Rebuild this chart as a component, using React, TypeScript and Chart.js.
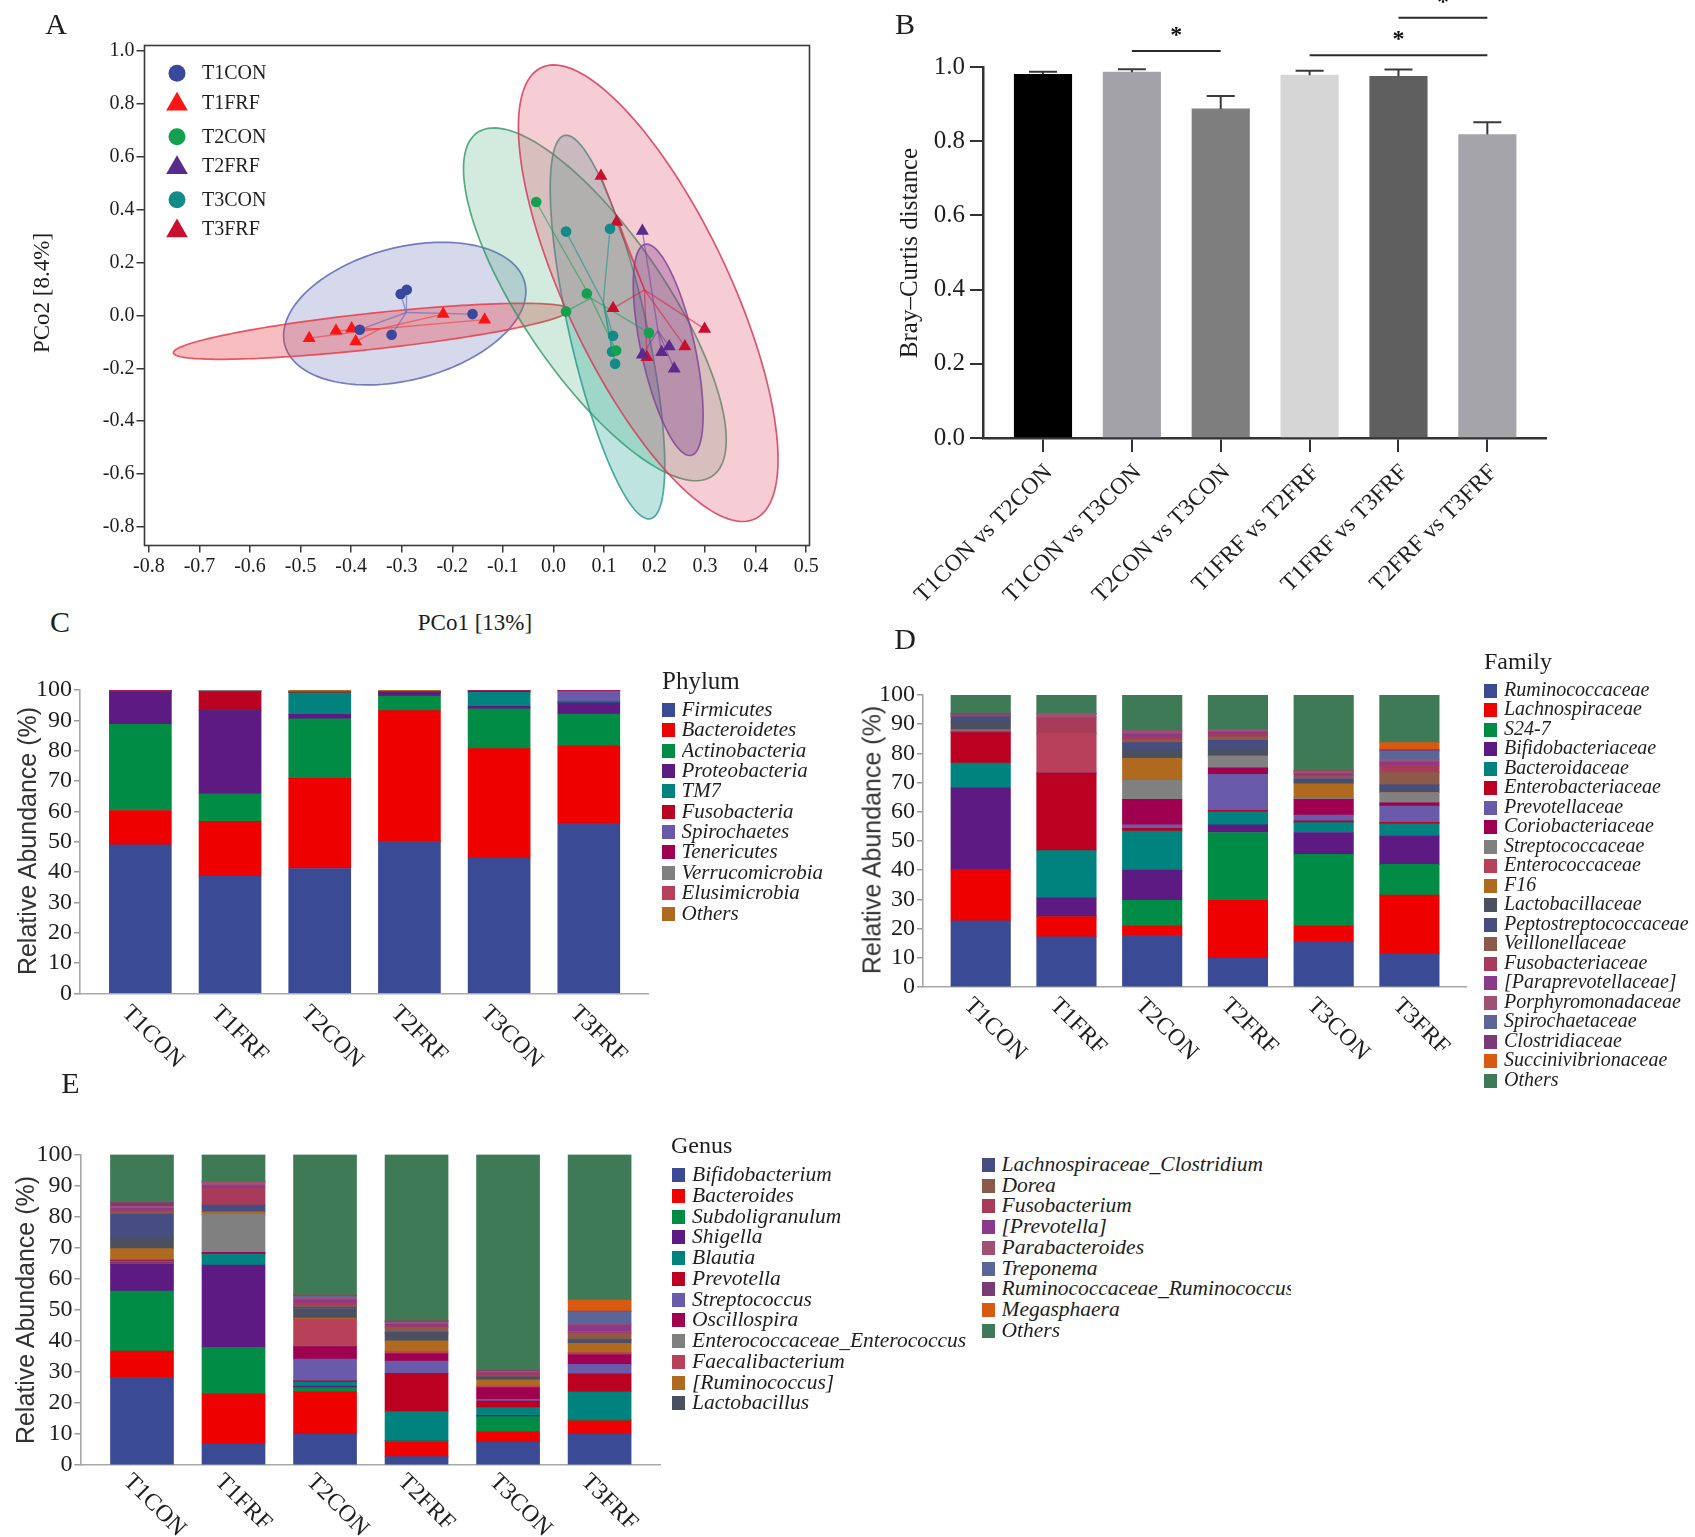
import React, { useEffect, useRef } from 'react';
import { Chart, registerables } from 'chart.js';

Chart.register(...registerables);

const SERIF = "'Liberation Serif', 'Times New Roman', serif";
const SANS = "'Liberation Sans', Arial, sans-serif";
const INK = '#1e1e1e';

// ================= Panel A : PCoA =================
const pcoGroups = ['T1CON', 'T1FRF', 'T2CON', 'T2FRF', 'T3CON', 'T3FRF'];
const t1conX = [-0.29, -0.302, -0.383, -0.32, -0.16];
const t1conY = [0.097, 0.081, -0.054, -0.073, 0.005];
const t1frfX = [-0.483, -0.43, -0.399, -0.391, -0.218, -0.136];
const t1frfY = [-0.086, -0.058, -0.049, -0.099, 0.005, -0.016];
const t2conX = [-0.034, 0.066, 0.025, 0.189, 0.124];
const t2conY = [0.429, 0.083, 0.015, -0.066, -0.133];
const t2frfX = [0.176, 0.229, 0.214, 0.176, 0.239];
const t2frfY = [0.319, -0.117, -0.139, -0.149, -0.202];
const t3conX = [0.025, 0.112, 0.118, 0.116, 0.122];
const t3conY = [0.317, 0.328, -0.077, -0.137, -0.183];
const t3frfX = [0.094, 0.125, 0.118, 0.185, 0.26, 0.299];
const t3frfY = [0.527, 0.353, 0.027, -0.158, -0.117, -0.051];
// confidence ellipses: centre, semi-axes, rotation (deg)
const ellCx = [-0.294, -0.36, 0.082, 0.227, 0.107, 0.1875];
const ellCy = [0.007, -0.06, 0.042, -0.13, -0.044, 0.084];
const ellA = [0.294, 0.4, 0.698, 0.402, 0.73, 0.884];
const ellB = [0.209, 0.067, 0.159, 0.054, 0.078, 0.172];
const ellDeg = [55.5, 12, 107.6, 96.2, 96.5, 102.7];
const pcoXTicks = [-0.8, -0.7, -0.6, -0.5, -0.4, -0.3, -0.2, -0.1, 0.0, 0.1, 0.2, 0.3, 0.4, 0.5];
const pcoYTicks = [-0.8, -0.6, -0.4, -0.2, 0.0, 0.2, 0.4, 0.6, 0.8, 1.0];

// ================= Panel B : Bray-Curtis =================
const distLabels = ['T1CON vs T2CON', 'T1CON vs T3CON', 'T2CON vs T3CON', 'T1FRF vs T2FRF', 'T1FRF vs T3FRF', 'T2FRF vs T3FRF'];
const distMean = [0.98, 0.986, 0.887, 0.978, 0.975, 0.818];
const distErr = [0.007, 0.008, 0.035, 0.012, 0.018, 0.033];
const distTicks = [0.0, 0.2, 0.4, 0.6, 0.8, 1.0];
const sigFrom = [1, 3, 4];
const sigTo = [2, 5, 5];
const sigLevel = [1.043, 1.032, 1.133];
const sigMark = ['*', '*', '*'];

// ================= Panels C/D/E : relative abundance =================
const sampleGroups = ['T1CON', 'T1FRF', 'T2CON', 'T2FRF', 'T3CON', 'T3FRF'];
const abundTicks = [0, 10, 20, 30, 40, 50, 60, 70, 80, 90, 100];

const phylumNames = ['Firmicutes', 'Bacteroidetes', 'Actinobacteria', 'Proteobacteria', 'TM7', 'Fusobacteria', 'Spirochaetes', 'Tenericutes', 'Verrucomicrobia', 'Elusimicrobia', 'Others'];
const phylumValues = [
  [49.0, 38.6, 41.2, 50.1, 44.6, 56.1],
  [11.3, 18.1, 29.7, 43.1, 36.1, 25.5],
  [28.4, 9.1, 19.6, 4.8, 13.1, 10.5],
  [10.6, 27.4, 1.5, 1.2, 0.8, 3.7],
  [0.1, 0.0, 7.1, 0.0, 4.6, 0.3],
  [0.3, 6.3, 0.1, 0.2, 0.4, 0.1],
  [0.0, 0.1, 0.1, 0.0, 0.0, 3.3],
  [0.1, 0.0, 0.1, 0.1, 0.2, 0.3],
  [0.0, 0.3, 0.0, 0.0, 0.0, 0.0],
  [0.0, 0.0, 0.1, 0.0, 0.0, 0.0],
  [0.2, 0.1, 0.5, 0.5, 0.2, 0.2],
];

const familyNames = ['Ruminococcaceae', 'Lachnospiraceae', 'S24-7', 'Bifidobacteriaceae', 'Bacteroidaceae', 'Enterobacteriaceae', 'Prevotellaceae', 'Coriobacteriaceae', 'Streptococcaceae', 'Enterococcaceae', 'F16', 'Lactobacillaceae', 'Peptostreptococcaceae', 'Veillonellaceae', 'Fusobacteriaceae', '[Paraprevotellaceae]', 'Porphyromonadaceae', 'Spirochaetaceae', 'Clostridiaceae', 'Succinivibrionaceae', 'Others'];
const familyValues = [
  [22.7, 17.2, 17.7, 9.8, 15.5, 11.4],
  [17.4, 6.9, 3.2, 19.9, 5.4, 20.1],
  [0.0, 0.0, 8.8, 23.2, 24.5, 10.5],
  [28.1, 6.4, 10.3, 2.6, 7.5, 9.7],
  [8.5, 16.2, 13.4, 4.5, 3.4, 4.2],
  [10.4, 26.6, 0.9, 0.5, 0.6, 0.5],
  [0.0, 0.0, 1.2, 12.3, 2.0, 5.6],
  [0.3, 0.0, 8.8, 2.3, 5.4, 1.1],
  [0.3, 0.0, 6.6, 4.0, 0.5, 3.5],
  [0.5, 13.5, 0.0, 0.0, 0.0, 0.0],
  [0.0, 0.0, 7.4, 0.0, 4.8, 0.0],
  [2.6, 0.0, 3.1, 2.3, 1.0, 1.1],
  [1.7, 0.0, 2.3, 3.1, 0.8, 1.5],
  [0.2, 0.0, 1.0, 1.2, 0.6, 4.2],
  [0.3, 5.5, 1.0, 0.8, 0.6, 2.6],
  [0.2, 0.0, 1.0, 0.8, 0.5, 1.0],
  [0.3, 1.4, 1.0, 0.9, 0.5, 1.0],
  [0.0, 0.0, 0.0, 0.0, 0.2, 2.8],
  [0.2, 0.0, 0.0, 0.0, 0.2, 0.5],
  [0.0, 0.0, 0.0, 0.0, 0.0, 2.4],
  [6.3, 6.3, 12.3, 11.8, 26.0, 16.3],
];

const genusNames = ['Bifidobacterium', 'Bacteroides', 'Subdoligranulum', 'Shigella', 'Blautia', 'Prevotella', 'Streptococcus', 'Oscillospira', 'Enterococcaceae_Enterococcus', 'Faecalibacterium', '[Ruminococcus]', 'Lactobacillus', 'Lachnospiraceae_Clostridium', 'Dorea', 'Fusobacterium', '[Prevotella]', 'Parabacteroides', 'Treponema', 'Ruminococcaceae_Ruminococcus', 'Megasphaera', 'Others'];
const genusValues = [
  [28.2, 6.8, 9.9, 2.7, 7.3, 9.9],
  [8.5, 16.1, 13.7, 4.8, 3.4, 4.3],
  [19.3, 15.0, 1.3, 0.3, 4.9, 0.3],
  [8.6, 26.5, 0.5, 0.0, 0.4, 0.0],
  [0.4, 3.5, 1.3, 9.4, 2.5, 9.1],
  [0.2, 0.3, 0.4, 12.3, 2.1, 5.8],
  [0.5, 0.0, 7.0, 4.0, 0.5, 3.0],
  [0.2, 0.3, 4.0, 2.4, 3.8, 3.2],
  [0.0, 12.2, 0.0, 0.0, 0.0, 0.0],
  [0.3, 0.0, 8.9, 0.6, 0.5, 0.6],
  [3.5, 0.8, 0.3, 3.5, 2.0, 3.0],
  [3.3, 0.0, 3.1, 2.4, 0.5, 0.8],
  [8.0, 2.2, 0.5, 0.4, 0.5, 0.4],
  [0.5, 0.0, 0.5, 1.5, 0.3, 2.0],
  [0.4, 5.5, 0.8, 0.4, 0.5, 0.6],
  [0.8, 0.8, 1.0, 0.6, 0.5, 2.1],
  [0.6, 1.2, 0.8, 0.5, 0.4, 0.3],
  [0.0, 0.0, 0.5, 0.3, 0.0, 4.0],
  [1.2, 0.0, 0.2, 0.3, 0.3, 0.2],
  [0.0, 0.0, 0.0, 0.0, 0.0, 3.5],
  [15.5, 8.8, 45.3, 53.6, 69.6, 46.9],
];

// ================= styles =================
const pcoColors = ['#3a479e', '#ff1414', '#13a04f', '#5a2a8c', '#118b88', '#c8102e'];
const pcoShapes = ['circle', 'triangle', 'circle', 'triangle', 'circle', 'triangle'];
const ellFill = ['rgba(70,82,170,0.22)', 'rgba(235,55,65,0.33)', 'rgba(50,165,105,0.22)', 'rgba(120,50,140,0.32)', 'rgba(40,165,150,0.3)', 'rgba(225,75,105,0.28)'];
const ellStroke = ['rgba(95,105,180,0.85)', 'rgba(232,60,70,0.85)', 'rgba(50,150,100,0.8)', 'rgba(130,70,150,0.85)', 'rgba(40,150,140,0.8)', 'rgba(215,60,90,0.85)'];
const spokeColor = ['rgba(100,110,190,0.65)', 'rgba(240,60,60,0.6)', 'rgba(40,160,90,0.6)', 'rgba(120,70,160,0.6)', 'rgba(30,150,140,0.6)', 'rgba(210,40,70,0.6)'];
const ellOrder = [0, 1, 2, 4, 5, 3];
const distColors = ['#000000', '#a3a2a8', '#7e7e7e', '#d6d6d6', '#5f5f5f', '#a5a4aa'];
const taxaPalette = ['#3b4a94', '#ee0000', '#008c45', '#5c1a82', '#00837f', '#bb0022', '#6a5aaa', '#a00050', '#808080', '#b84058', '#b06a20', '#4a5060', '#464d80', '#8b5a4a', '#a83a5a', '#8a3a8a', '#a05070', '#5a6598', '#7a3a78', '#d85a10', '#3d7a55'];

const mean = (a: number[]) => a.reduce((s, v) => s + v, 0) / a.length;
const pcoX = [t1conX, t1frfX, t2conX, t2frfX, t3conX, t3frfX];
const pcoY = [t1conY, t1frfY, t2conY, t2frfY, t3conY, t3frfY];

function ellipsePath(ctx: any, xs: any, ys: any, g: number) {
  const t = (ellDeg[g] * Math.PI) / 180;
  ctx.beginPath();
  for (let k = 0; k <= 160; k++) {
    const u = (k / 160) * Math.PI * 2;
    const dx = ellA[g] * Math.cos(u);
    const dy = ellB[g] * Math.sin(u);
    const X = ellCx[g] + dx * Math.cos(t) - dy * Math.sin(t);
    const Y = ellCy[g] + dx * Math.sin(t) + dy * Math.cos(t);
    const px = xs.getPixelForValue(X);
    const py = ys.getPixelForValue(Y);
    if (k === 0) ctx.moveTo(px, py);
    else ctx.lineTo(px, py);
  }
  ctx.closePath();
}

function drawMarker(ctx: any, shape: string, x: number, y: number, r: number, color: string) {
  ctx.fillStyle = color;
  ctx.beginPath();
  if (shape === 'circle') {
    ctx.arc(x, y, r, 0, Math.PI * 2);
  } else {
    for (let i = 0; i < 3; i++) {
      const a = (i * 2 * Math.PI) / 3;
      const px = x + Math.sin(a) * r;
      const py = y - Math.cos(a) * r + r * 0.15;
      if (i === 0) ctx.moveTo(px, py);
      else ctx.lineTo(px, py);
    }
    ctx.closePath();
  }
  ctx.fill();
}

const legendRowY = [73.2, 102.3, 136.7, 165.8, 199.8, 229];

const pcoPlugin = {
  id: 'pco',
  beforeDatasetsDraw(chart: any) {
    const { ctx, chartArea: ca, scales } = chart;
    const xs = scales.x;
    const ys = scales.y;
    ctx.save();
    ctx.beginPath();
    ctx.rect(ca.left, ca.top, ca.right - ca.left, ca.bottom - ca.top);
    ctx.clip();
    ellOrder.forEach((g) => {
      ellipsePath(ctx, xs, ys, g);
      ctx.fillStyle = ellFill[g];
      ctx.fill();
      ctx.lineWidth = 1.7;
      ctx.strokeStyle = ellStroke[g];
      ctx.stroke();
    });
    pcoGroups.forEach((_, g) => {
      const mx = xs.getPixelForValue(mean(pcoX[g]));
      const my = ys.getPixelForValue(mean(pcoY[g]));
      ctx.strokeStyle = spokeColor[g];
      ctx.lineWidth = 1.4;
      pcoX[g].forEach((v, i) => {
        ctx.beginPath();
        ctx.moveTo(mx, my);
        ctx.lineTo(xs.getPixelForValue(v), ys.getPixelForValue(pcoY[g][i]));
        ctx.stroke();
      });
    });
    ctx.restore();
  },
  afterDraw(chart: any) {
    const { ctx, chartArea: ca } = chart;
    ctx.save();
    ctx.strokeStyle = '#3a3a3a';
    ctx.lineWidth = 1.6;
    ctx.strokeRect(ca.left, ca.top, ca.right - ca.left, ca.bottom - ca.top);
    ctx.font = `20px ${SERIF}`;
    ctx.textBaseline = 'middle';
    ctx.textAlign = 'left';
    pcoGroups.forEach((g, i) => {
      const y = legendRowY[i];
      drawMarker(ctx, pcoShapes[i], 177, y, pcoShapes[i] === 'circle' ? 8.5 : 12.5, pcoColors[i]);
      ctx.fillStyle = INK;
      ctx.fillText(g, 202, y + 1);
    });
    ctx.restore();
  },
};

const distPlugin = {
  id: 'dist',
  afterDatasetsDraw(chart: any) {
    const { ctx, scales } = chart;
    const xs = scales.x;
    const ys = scales.y;
    ctx.save();
    ctx.strokeStyle = '#3a3a3a';
    ctx.lineWidth = 2;
    distMean.forEach((m, i) => {
      const px = xs.getPixelForValue(i);
      const y0 = ys.getPixelForValue(m);
      const y1 = ys.getPixelForValue(m + distErr[i]);
      ctx.beginPath();
      ctx.moveTo(px, y0);
      ctx.lineTo(px, y1);
      ctx.moveTo(px - 14, y1);
      ctx.lineTo(px + 14, y1);
      ctx.stroke();
    });
    ctx.strokeStyle = '#2a2a2a';
    ctx.lineWidth = 2;
    ctx.fillStyle = '#111';
    ctx.font = `bold 24px ${SERIF}`;
    ctx.textAlign = 'center';
    ctx.textBaseline = 'alphabetic';
    sigFrom.forEach((a, k) => {
      const x1 = xs.getPixelForValue(a);
      const x2 = xs.getPixelForValue(sigTo[k]);
      const y = ys.getPixelForValue(sigLevel[k]);
      ctx.beginPath();
      ctx.moveTo(x1, y);
      ctx.lineTo(x2, y);
      ctx.stroke();
      ctx.fillText(sigMark[k], (x1 + x2) / 2, y - 9);
    });
    ctx.restore();
  },
};

function catLabels(labels: string[], rot: number, dx: number, dy: number, size: number) {
  return {
    id: 'catLabels',
    afterDraw(chart: any) {
      const { ctx, chartArea: ca, scales } = chart;
      ctx.save();
      ctx.font = `${size}px ${SERIF}`;
      ctx.fillStyle = INK;
      ctx.textBaseline = 'middle';
      ctx.textAlign = rot > 0 ? 'left' : 'right';
      labels.forEach((lab, i) => {
        const px = scales.x.getPixelForValue(i);
        ctx.save();
        ctx.translate(px + dx, ca.bottom + dy);
        ctx.rotate((rot * Math.PI) / 180);
        ctx.fillText(lab, 0, 0);
        ctx.restore();
      });
      ctx.restore();
    },
  };
}

function stackedConfig(names: string[], values: number[][], area: any) {
  return {
    type: 'bar',
    data: {
      datasets: names.map((n, k) => ({
        label: n,
        data: sampleGroups.map((_, i) => ({ x: i, y: values[k][i] })),
        backgroundColor: taxaPalette[k],
        borderWidth: 0,
        barThickness: area.bar,
      })),
    },
    options: {
      responsive: false,
      animation: false,
      events: [],
      layout: { padding: { top: area.T, right: area.R, left: 0, bottom: 0 } },
      plugins: { legend: { display: false }, tooltip: { enabled: false } },
      scales: {
        x: {
          type: 'linear',
          stacked: true,
          offset: false,
          min: -0.673,
          max: 5.66,
          afterBuildTicks: (s: any) => {
            s.ticks = sampleGroups.map((_, i) => ({ value: i }));
          },
          afterFit: (s: any) => {
            s.height = area.B;
          },
          grid: { display: false, offset: false },
          border: { display: true, color: '#a8a8a8', width: 1.6 },
          ticks: { callback: () => '' },
        },
        y: {
          stacked: true,
          min: 0,
          max: 100,
          afterBuildTicks: (s: any) => {
            s.ticks = abundTicks.map((v) => ({ value: v }));
          },
          afterFit: (s: any) => {
            s.width = area.L;
          },
          grid: { drawOnChartArea: false, drawTicks: true, tickLength: 6, color: '#9a9a9a', lineWidth: 1.5 },
          border: { display: true, color: '#a8a8a8', width: 1.6 },
          ticks: { font: { family: SERIF, size: 24 }, color: INK, padding: 2, autoSkip: false, callback: (v: any) => String(v) },
        },
      },
    },
    plugins: [catLabels(sampleGroups, 45, area.ldx, area.ldy, 24)],
  };
}

const pcoConfig: any = {
  type: 'scatter',
  data: {
    datasets: pcoGroups.map((g, k) => ({
      label: g,
      data: pcoX[k].map((v, i) => ({ x: v, y: pcoY[k][i] })),
      pointStyle: pcoShapes[k],
      pointRadius: pcoShapes[k] === 'circle' ? 5.3 : 7.5,
      backgroundColor: pcoColors[k],
      borderColor: pcoColors[k],
      borderWidth: 0,
    })),
  },
  options: {
    responsive: false,
    animation: false,
    events: [],
    layout: { padding: { top: 45.5, right: 30.5, left: 0, bottom: 0 } },
    plugins: { legend: { display: false }, tooltip: { enabled: false } },
    scales: {
      x: {
        type: 'linear',
        min: -0.8087,
        max: 0.5065,
        afterBuildTicks: (s: any) => {
          s.ticks = pcoXTicks.map((v) => ({ value: v }));
        },
        afterFit: (s: any) => {
          s.height = 54.5;
        },
        grid: { drawOnChartArea: false, drawTicks: true, tickLength: 7, color: '#3a3a3a', lineWidth: 1.5 },
        border: { display: false },
        ticks: { font: { family: SERIF, size: 20 }, color: INK, padding: 2, maxRotation: 0, autoSkip: false, callback: (v: any) => Number(v).toFixed(1) },
      },
      y: {
        type: 'linear',
        min: -0.87,
        max: 1.0208,
        afterBuildTicks: (s: any) => {
          s.ticks = pcoYTicks.map((v) => ({ value: v }));
        },
        afterFit: (s: any) => {
          s.width = 144.5;
        },
        grid: { drawOnChartArea: false, drawTicks: true, tickLength: 8, color: '#3a3a3a', lineWidth: 1.5 },
        border: { display: false },
        ticks: { font: { family: SERIF, size: 20 }, color: INK, padding: 2, autoSkip: false, callback: (v: any) => Number(v).toFixed(1) },
      },
    },
  },
  plugins: [pcoPlugin],
};

const distConfig: any = {
  type: 'bar',
  data: {
    datasets: [
      {
        label: 'Bray-Curtis distance',
        data: distMean.map((v, i) => ({ x: i, y: v })),
        backgroundColor: distColors,
        borderWidth: 0,
        barThickness: 57.5,
      },
    ],
  },
  options: {
    responsive: false,
    animation: false,
    events: [],
    layout: { padding: { top: 67, right: 54, left: 0, bottom: 0 } },
    plugins: { legend: { display: false }, tooltip: { enabled: false } },
    scales: {
      x: {
        type: 'linear',
        offset: false,
        min: -0.675,
        max: 5.66,
        afterBuildTicks: (s: any) => {
          s.ticks = distLabels.map((_, i) => ({ value: i }));
        },
        afterFit: (s: any) => {
          s.height = 207;
        },
        grid: { drawOnChartArea: false, drawTicks: true, tickLength: 14, color: '#333', lineWidth: 2, offset: false },
        border: { display: true, color: '#333', width: 2.5 },
        ticks: { callback: () => '' },
      },
      y: {
        min: 0,
        max: 1,
        afterBuildTicks: (s: any) => {
          s.ticks = distTicks.map((v) => ({ value: v }));
        },
        afterFit: (s: any) => {
          s.width = 123;
        },
        grid: { drawOnChartArea: false, drawTicks: true, tickLength: 13, color: '#333', lineWidth: 2 },
        border: { display: true, color: '#333', width: 2.5 },
        ticks: { font: { family: SERIF, size: 25 }, color: INK, padding: 5, autoSkip: false, callback: (v: any) => Number(v).toFixed(1) },
      },
    },
  },
  plugins: [distPlugin, catLabels(distLabels, -45, 6, 31, 23.5)],
};

// canvas placements (page px)
const boxes = {
  A: { left: 0, top: 0, w: 840, h: 600 },
  B: { left: 860, top: 0, w: 740, h: 645 },
  C: { left: 0, top: 640, w: 680, h: 440 },
  D: { left: 860, top: 650, w: 640, h: 420 },
  E: { left: 0, top: 1100, w: 700, h: 437 },
};

function Txt(props: { x: number; y: number; size: number; text: string; rotate?: boolean; family?: string; italic?: boolean; color?: string }) {
  const { x, y, size, text, rotate, family, italic, color } = props;
  return (
    <div
      style={{
        position: 'absolute',
        left: x,
        top: y,
        transform: `translate(-50%, -50%)${rotate ? ' rotate(-90deg)' : ''}`,
        whiteSpace: 'nowrap',
        font: `${italic ? 'italic ' : ''}${size}px ${family || SERIF}`,
        color: color || INK,
        lineHeight: 1,
      }}
    >
      {text}
    </div>
  );
}

function Legend(props: { names: string[]; colors: string[]; boxX: number; textX: number; y0: number; step: number; size: number; clipRight?: number }) {
  const { names, colors, boxX, textX, y0, step, size, clipRight } = props;
  return (
    <>
      {names.map((n, i) => {
        const y = y0 + i * step;
        return (
          <React.Fragment key={n}>
            <div style={{ position: 'absolute', left: boxX, top: y - 7, width: 13, height: 14, background: colors[i] }} />
            <div
              style={{
                position: 'absolute',
                left: textX,
                top: y - 13,
                height: 26,
                lineHeight: '26px',
                font: `italic ${size}px ${SERIF}`,
                whiteSpace: 'nowrap',
                color: INK,
                overflow: 'hidden',
                width: clipRight ? clipRight - textX : undefined,
              }}
            >
              {n}
            </div>
          </React.Fragment>
        );
      })}
    </>
  );
}

export default function App() {
  const refA = useRef<HTMLCanvasElement>(null);
  const refB = useRef<HTMLCanvasElement>(null);
  const refC = useRef<HTMLCanvasElement>(null);
  const refD = useRef<HTMLCanvasElement>(null);
  const refE = useRef<HTMLCanvasElement>(null);

  useEffect(() => {
    const charts: Chart[] = [];
    const make = (ref: any, cfg: any) => {
      if (ref.current) charts.push(new Chart(ref.current, cfg));
    };
    make(refA, pcoConfig);
    make(refB, distConfig);
    make(refC, stackedConfig(phylumNames, phylumValues, { L: 80, T: 50, R: 32, B: 86.5, bar: 62, ldx: -15, ldy: 16 }));
    make(refD, stackedConfig(familyNames, familyValues, { L: 63, T: 45, R: 34, B: 83, bar: 59.5, ldx: -13, ldy: 15 }));
    make(refE, stackedConfig(genusNames, genusValues, { L: 80.4, T: 54.5, R: 40, B: 72, bar: 63, ldx: -15, ldy: 13 }));
    return () => charts.forEach((c) => c.destroy());
  }, []);

  const cv = (ref: any, b: any) => (
    <canvas ref={ref} width={b.w} height={b.h} style={{ position: 'absolute', left: b.left, top: b.top, width: b.w, height: b.h }} />
  );

  const col1 = 12;
  return (
    <div style={{ position: 'absolute', left: 0, top: 0, width: 1695, height: 1537, background: '#fff', overflow: 'hidden' }}>
      {cv(refA, boxes.A)}
      {cv(refB, boxes.B)}
      {cv(refC, boxes.C)}
      {cv(refD, boxes.D)}
      {cv(refE, boxes.E)}

      <Txt x={56} y={24} size={30} text="A" />
      <Txt x={905} y={24} size={30} text="B" />
      <Txt x={60} y={622} size={30} text="C" />
      <Txt x={905} y={639} size={30} text="D" />
      <Txt x={70.5} y={1083} size={30} text="E" />

      <Txt x={40.5} y={293} size={23} text="PCo2 [8.4%]" rotate />
      <Txt x={475} y={622} size={23} text="PCo1 [13%]" />
      <Txt x={908} y={253} size={25} text="Bray–Curtis distance" rotate />
      <Txt x={26.5} y={841} size={25} text="Relative Abundance (%)" rotate family={SANS} color="#333" />
      <Txt x={872} y={840} size={25} text="Relative Abundance (%)" rotate family={SANS} color="#333" />
      <Txt x={24.6} y={1310} size={25} text="Relative Abundance (%)" rotate family={SANS} color="#333" />

      <div style={{ position: 'absolute', left: 662, top: 681.5 - 15, lineHeight: '30px', font: `25px ${SERIF}`, color: INK }}>Phylum</div>
      <Legend names={phylumNames} colors={taxaPalette} boxX={662} textX={681.5} y0={710} step={20.35} size={21} />

      <div style={{ position: 'absolute', left: 1484, top: 663 - 15, lineHeight: '30px', font: `24px ${SERIF}`, color: INK }}>Family</div>
      <Legend names={familyNames} colors={taxaPalette} boxX={1484} textX={1504} y0={690.8} step={19.5} size={20} />

      <div style={{ position: 'absolute', left: 671, top: 1146.5 - 15, lineHeight: '30px', font: `24px ${SERIF}`, color: INK }}>Genus</div>
      <Legend names={genusNames.slice(0, col1)} colors={taxaPalette.slice(0, col1)} boxX={672} textX={692} y0={1175} step={20.77} size={21.5} />
      <Legend names={genusNames.slice(col1)} colors={taxaPalette.slice(col1)} boxX={982} textX={1001.5} y0={1165} step={20.7} size={21.5} clipRight={1291} />
    </div>
  );
}
